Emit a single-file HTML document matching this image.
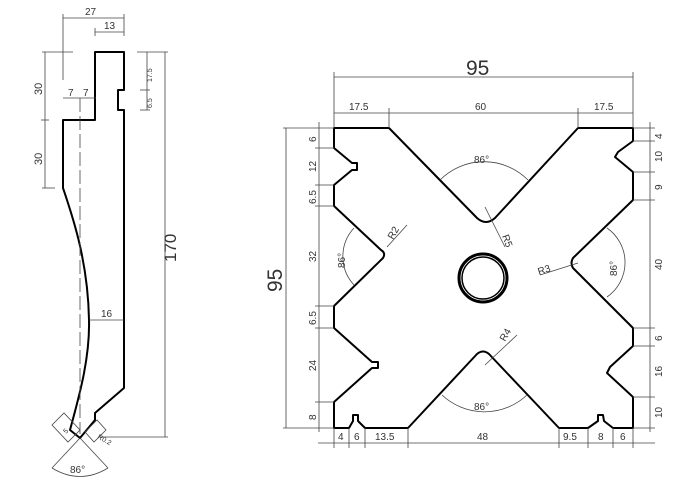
<!DOCTYPE html>
<html><head><style>
html,body{margin:0;padding:0;background:#fff;}
svg{display:block;}
text{font-family:"Liberation Sans",sans-serif;fill:#333;}
</style></head><body>
<svg width="694" height="487" viewBox="0 0 694 487" xmlns="http://www.w3.org/2000/svg">
<g fill="none" stroke="#000" stroke-width="2" stroke-linejoin="round">
<!-- left profile -->
<path d="M95,52 L124,52 L124,90 L118,90 L118,110 L124,110 L124,388 L95,413 L95,420 L80,438 L70,430 C78,400 90,360 89,320 C88,260 72,215 63,188 L63,120 L95,120 Z"/>
<!-- main block -->
<path d="M334,128 L389,128 L477,218 Q486,226 495,218 L578,128 L633,128 L633,141 L618,152 L615,157 L633,172 L633,200 L573,258 Q570,263 573,268 L633,328 L633,346 L610,367 L607,373 L633,397 L633,428 L613,428 L604,421 L603,415 L598,415 L598,421 L588,428 L559,428 L489,354 Q483,349 477,354 L408,428 L365,428 L358,421 L358,415 L353,415 L353,421 L349,428 L334,428 L334,402 L372,368 L378,368 L378,362 L372,362 L334,328 L334,306 L383,258 Q386,253 381,250 L334,206 L334,185 L352,170 L357,170 L357,163 L352,163 L334,148 Z"/>
<circle cx="483" cy="278" r="24" stroke-width="3"/>
<circle cx="483" cy="278" r="21" stroke-width="1.5"/>
</g>
<g fill="none" stroke="#444" stroke-width="0.8">
<!-- left drawing dims -->
<line x1="80" y1="98" x2="80" y2="434" stroke-dasharray="14,4"/>
<line x1="63" y1="14" x2="63" y2="80"/>
<line x1="124" y1="14" x2="124" y2="36"/>
<line x1="63" y1="18" x2="124" y2="18"/>
<line x1="95" y1="28" x2="95" y2="36"/>
<line x1="95" y1="32" x2="124" y2="32"/>
<line x1="42" y1="52" x2="73" y2="52"/>
<line x1="42" y1="188" x2="55" y2="188"/>
<line x1="45" y1="52" x2="45" y2="188"/>
<line x1="41" y1="120" x2="49" y2="120"/>
<line x1="63" y1="98" x2="96" y2="98"/>
<line x1="137" y1="52" x2="168" y2="52"/>
<line x1="165" y1="52" x2="165" y2="437"/>
<line x1="100" y1="437" x2="168" y2="437"/>
<line x1="147" y1="52" x2="147" y2="110"/>
<line x1="140" y1="90" x2="150" y2="90"/>
<line x1="140" y1="110" x2="150" y2="110"/>
<line x1="89" y1="320" x2="124" y2="320"/>
<line x1="80" y1="438" x2="52" y2="468"/>
<line x1="80" y1="438" x2="108" y2="468"/>
<path d="M52,468 Q80,485 108,468"/>
<path d="M52,425 L64,413 L80,430 L68,442 Z"/>
<path d="M85,432 L97,420 L106,430 L94,442 Z"/>
<!-- right drawing dims -->
<line x1="334" y1="72" x2="334" y2="128"/>
<line x1="633" y1="72" x2="633" y2="128"/>
<line x1="334" y1="77" x2="633" y2="77"/>
<line x1="334" y1="113" x2="633" y2="113"/>
<line x1="389" y1="108" x2="389" y2="128"/>
<line x1="578" y1="108" x2="578" y2="128"/>
<line x1="283" y1="128" x2="334" y2="128"/>
<line x1="283" y1="428" x2="334" y2="428"/>
<line x1="286" y1="128" x2="286" y2="428"/>
<line x1="319" y1="122" x2="319" y2="432"/>
<path d="M315,148 H334 M315,185 H334 M315,206 H334 M315,306 H334 M315,328 H334 M315,402 H334"/>
<line x1="650" y1="122" x2="650" y2="432"/>
<path d="M633,128 H655 M633,141 H655 M633,172 H655 M633,200 H655 M633,328 H655 M633,346 H655 M633,397 H655 M633,428 H655"/>
<line x1="318" y1="443" x2="655" y2="443"/>
<path d="M334,428 V448 M349,428 V448 M365,428 V448 M408,428 V448 M559,428 V448 M588,428 V448 M613,428 V448 M633,428 V448"/>
<!-- angle arcs -->
<path d="M440,180 A62,62 0 0 1 528,180"/>
<path d="M354,228 A42,42 0 0 0 354,285"/>
<path d="M607,228 A42,42 0 0 1 607,297"/>
<path d="M442,395 A62,62 0 0 0 527,395"/>
<!-- radius leaders -->
<line x1="485" y1="207" x2="505" y2="247"/>
<line x1="387" y1="247" x2="407" y2="225"/>
<line x1="540" y1="275" x2="578" y2="263"/>
<line x1="485" y1="365" x2="517" y2="335"/>
</g>
<g font-size="10">
<text x="85" y="15">27</text>
<text x="104" y="29">13</text>
<text x="68" y="96">7</text>
<text x="83" y="96">7</text>
<text x="101" y="317">16</text>
<text x="70" y="473">86°</text>
<text transform="translate(42,95) rotate(-90)" font-size="11">30</text>
<text transform="translate(42,165) rotate(-90)" font-size="11">30</text>
<text transform="translate(152,82) rotate(-90)" font-size="7">17.5</text>
<text transform="translate(152,108) rotate(-90)" font-size="7">6.5</text>
<text transform="translate(176,262) rotate(-90)" font-size="17">170</text>
<text transform="translate(66,434) rotate(-45)" font-size="7">5</text>
<text transform="translate(97,438) rotate(30)" font-size="7">R0.2</text>

<text x="466" y="75" font-size="21">95</text>
<text x="349" y="110">17.5</text>
<text x="475" y="110">60</text>
<text x="594" y="110">17.5</text>
<text transform="translate(282,292) rotate(-90)" font-size="21">95</text>
<text transform="translate(316,142) rotate(-90)">6</text>
<text transform="translate(316,172) rotate(-90)">12</text>
<text transform="translate(316,204) rotate(-90)">6.5</text>
<text transform="translate(316,262) rotate(-90)">32</text>
<text transform="translate(316,325) rotate(-90)">6.5</text>
<text transform="translate(316,371) rotate(-90)">24</text>
<text transform="translate(316,420) rotate(-90)">8</text>
<text transform="translate(662,139) rotate(-90)">4</text>
<text transform="translate(662,162) rotate(-90)">10</text>
<text transform="translate(662,190) rotate(-90)">9</text>
<text transform="translate(662,270) rotate(-90)">40</text>
<text transform="translate(662,341) rotate(-90)">6</text>
<text transform="translate(662,377) rotate(-90)">16</text>
<text transform="translate(662,418) rotate(-90)">10</text>
<text x="338" y="440">4</text>
<text x="354" y="440">6</text>
<text x="375" y="440">13.5</text>
<text x="477" y="440">48</text>
<text x="563" y="440">9.5</text>
<text x="598" y="440">8</text>
<text x="620" y="440">6</text>
<text x="474" y="163">86°</text>
<text x="474" y="410">86°</text>
<text transform="translate(345,268) rotate(-90)">86°</text>
<text transform="translate(617,276) rotate(-90)">86°</text>
<text transform="translate(502,236) rotate(70)">R5</text>
<text transform="translate(393,240) rotate(-60)">R2</text>
<text transform="translate(539,275) rotate(-18)">R3</text>
<text transform="translate(505,342) rotate(-60)">R4</text>
</g>
</svg>
</body></html>
